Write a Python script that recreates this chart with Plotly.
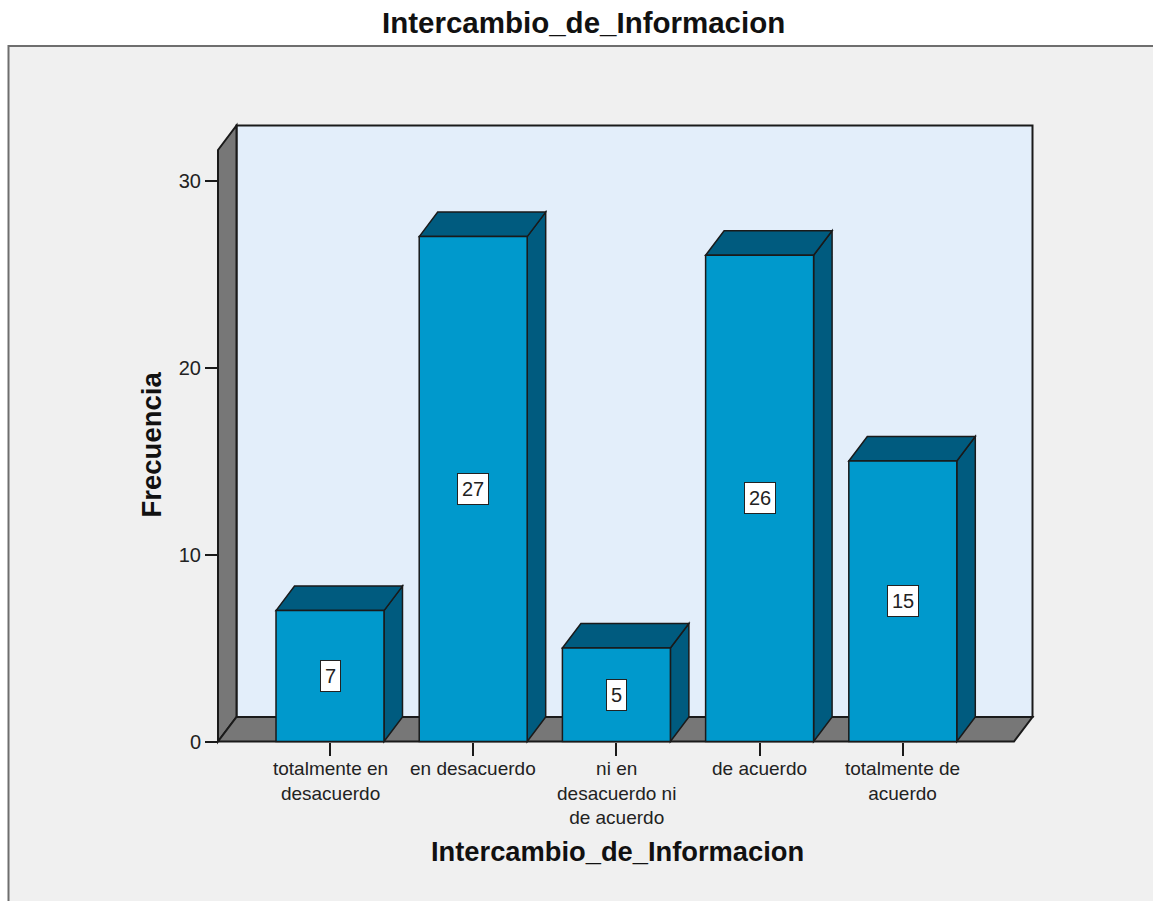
import plotly.graph_objects as go

# ---- data ---------------------------------------------------------------
categories = [
    "totalmente en<br>desacuerdo",
    "en desacuerdo",
    "ni en<br>desacuerdo ni<br>de acuerdo",
    "de acuerdo",
    "totalmente de<br>acuerdo",
]
frecuencia = [7, 27, 5, 26, 15]
y_ticks = [0, 10, 20, 30]

chart_title = "Intercambio_de_Informacion"
x_title = "Intercambio_de_Informacion"
y_title = "Frecuencia"

# ---- geometry / style -------------------------------------------------
W, H = 1153, 901
FONT = "Arial, Liberation Sans, sans-serif"

# pixel frame of the axes (front plane)
X_ORIGIN_PX = 330.0      # pixel of category 0
X_STEP_PX = 143.2        # pixels per category
Y_ZERO_PX = 741.5        # pixel of frequency 0
Y_UNIT_PX = 18.7         # pixels per frequency unit

DEPTH_X_PX, DEPTH_Y_PX = 18.5, 24.5
DX = DEPTH_X_PX / X_STEP_PX
DY = DEPTH_Y_PX / Y_UNIT_PX
BAR_W = 0.754

XL = (218 - X_ORIGIN_PX) / X_STEP_PX          # front-left edge of the box
XR = (1032.5 - X_ORIGIN_PX) / X_STEP_PX       # back-right edge of the box
YMAX = (Y_ZERO_PX - 150) / Y_UNIT_PX          # front top of the side wall

# plotting domain padded a little so outlines are not clipped
DOM_X_PX = (200, 1050)
DOM_Y_PX = (760, 110)

def px_to_x(px):
    return (px - X_ORIGIN_PX) / X_STEP_PX

def py_to_y(py):
    return (Y_ZERO_PX - py) / Y_UNIT_PX

def paper_y(py):
    return 1 - py / H

BAR_FRONT = "#0099cc"
BAR_DARK = "#005b7f"
WALL_BACK = "#e3eefa"
WALL_SIDE = "#777777"
EDGE = "#1a1a1a"
BG = "#f0f0f0"

def poly(pts):
    return "M " + " L ".join(f"{x},{y}" for x, y in pts) + " Z"

shapes = []

# outer frame
shapes.append(dict(type="rect", xref="paper", yref="paper",
                   x0=8.5 / W, x1=1.05, y0=-0.05, y1=paper_y(46),
                   fillcolor=BG, line=dict(color="#6e6e6e", width=2),
                   layer="below"))

# back wall
shapes.append(dict(type="path", xref="x", yref="y", layer="below",
                   path=poly([(XL + DX, DY), (XR, DY), (XR, YMAX + DY), (XL + DX, YMAX + DY)]),
                   fillcolor=WALL_BACK, line=dict(color=EDGE, width=2)))
# left wall
shapes.append(dict(type="path", xref="x", yref="y", layer="below",
                   path=poly([(XL, 0), (XL + DX, DY), (XL + DX, YMAX + DY), (XL, YMAX)]),
                   fillcolor=WALL_SIDE, line=dict(color=EDGE, width=2)))
# floor
shapes.append(dict(type="path", xref="x", yref="y", layer="below",
                   path=poly([(XL, 0), (XR - DX, 0), (XR, DY), (XL + DX, DY)]),
                   fillcolor=WALL_SIDE, line=dict(color=EDGE, width=2)))

# side and top faces of each bar
for i, v in enumerate(frecuencia):
    l, r = i - BAR_W / 2, i + BAR_W / 2
    shapes.append(dict(type="path", xref="x", yref="y", layer="below",
                       path=poly([(r, 0), (r + DX, DY), (r + DX, v + DY), (r, v)]),
                       fillcolor=BAR_DARK, line=dict(color=EDGE, width=1.5)))
    shapes.append(dict(type="path", xref="x", yref="y", layer="below",
                       path=poly([(l, v), (l + DX, v + DY), (r + DX, v + DY), (r, v)]),
                       fillcolor=BAR_DARK, line=dict(color=EDGE, width=1.5)))

fig = go.Figure()
fig.add_trace(go.Bar(
    x=list(range(len(frecuencia))), y=frecuencia, width=BAR_W,
    marker=dict(color=BAR_FRONT, line=dict(color=EDGE, width=1.5)),
    hoverinfo="skip", showlegend=False,
))

annotations = []

# value labels in the middle of each bar
for i, v in enumerate(frecuencia):
    annotations.append(dict(x=i, y=v / 2, xref="x", yref="y", text=str(v),
                            showarrow=False, xanchor="center", yanchor="middle",
                            font=dict(family=FONT, size=20, color="#222"),
                            bgcolor="white", bordercolor="#222", borderwidth=1,
                            borderpad=4))

# category labels under the ticks
for i, txt in enumerate(categories):
    annotations.append(dict(x=i, y=paper_y(756), xref="x", yref="paper",
                            text=txt, showarrow=False,
                            xanchor="center", yanchor="top",
                            font=dict(family=FONT, size=19, color="#222")))

# titles
annotations.append(dict(x=583 / W, y=paper_y(23), xref="paper", yref="paper",
                        text=f"<b>{chart_title}</b>", showarrow=False,
                        xanchor="center", yanchor="middle",
                        font=dict(family=FONT, size=29.5, color="#111")))
annotations.append(dict(x=617.5 / W, y=paper_y(851), xref="paper", yref="paper",
                        text=f"<b>{x_title}</b>", showarrow=False,
                        xanchor="center", yanchor="middle",
                        font=dict(family=FONT, size=27.3, color="#111")))
annotations.append(dict(x=151.5 / W, y=paper_y(445), xref="paper", yref="paper",
                        text=f"<b>{y_title}</b>", showarrow=False, textangle=-90,
                        xanchor="center", yanchor="middle",
                        font=dict(family=FONT, size=27.5, color="#111")))

fig.update_layout(
    width=W, height=H, margin=dict(l=0, r=0, t=0, b=0),
    paper_bgcolor="white", plot_bgcolor="rgba(0,0,0,0)",
    shapes=shapes, annotations=annotations, showlegend=False,
    xaxis=dict(domain=[DOM_X_PX[0] / W, DOM_X_PX[1] / W],
               range=[px_to_x(DOM_X_PX[0]), px_to_x(DOM_X_PX[1])],
               anchor="free", position=paper_y(Y_ZERO_PX),
               tickvals=list(range(len(frecuencia))), showticklabels=False,
               ticks="outside", ticklen=13, tickwidth=1.5, tickcolor=EDGE,
               showgrid=False, zeroline=False, showline=False, fixedrange=True),
    yaxis=dict(domain=[paper_y(DOM_Y_PX[0]), paper_y(DOM_Y_PX[1])],
               range=[py_to_y(DOM_Y_PX[0]), py_to_y(DOM_Y_PX[1])],
               anchor="free", position=218 / W,
               tickvals=y_ticks, ticks="outside", ticklen=13, tickwidth=1.5,
               tickcolor=EDGE, tickfont=dict(family=FONT, size=20, color="#222"),
               showgrid=False, zeroline=False, showline=False, fixedrange=True),
)

fig.write_html("out.html", config={"displayModeBar": False})
